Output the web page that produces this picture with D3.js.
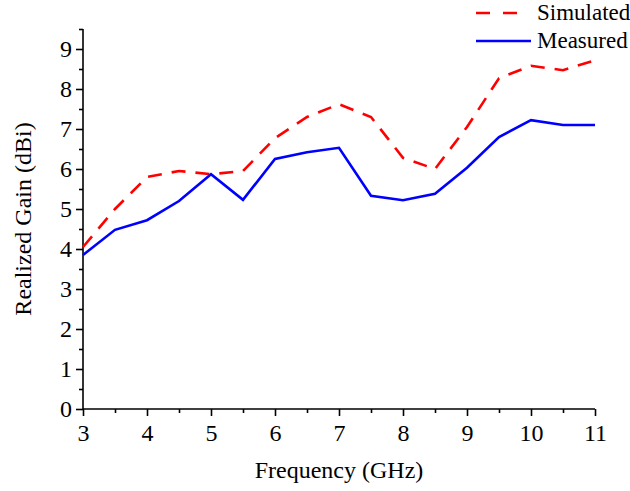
<!DOCTYPE html>
<html>
<head>
<meta charset="utf-8">
<script src="https://cdn.jsdelivr.net/npm/d3@7"></script>
<style>
  body { margin: 0; background: #fff; }
</style>
</head>
<body>
<div class="chart"></div>
<script>
var freq = [3, 3.5, 4, 4.5, 5, 5.5, 6, 6.5, 7, 7.5, 8, 8.5, 9, 9.5, 10, 10.5, 11];
var simulated = [4.05, 5.0, 5.8, 5.95, 5.87, 5.95, 6.77, 7.3, 7.62, 7.3, 6.28, 6.0, 7.05, 8.27, 8.58, 8.47, 8.72];
var measured = [3.85, 4.48, 4.72, 5.2, 5.87, 5.23, 6.25, 6.42, 6.53, 5.33, 5.22, 5.38, 6.03, 6.8, 7.22, 7.1, 7.1];
var xTicks = [3, 4, 5, 6, 7, 8, 9, 10, 11];
var yTicks = [0, 1, 2, 3, 4, 5, 6, 7, 8, 9];
var seriesNames = ["Simulated", "Measured"];

var serif = "Liberation Serif";
var margin = { top: 29, right: 35, bottom: 82, left: 83 };

var svg = d3.select(".chart")
  .append("svg")
  .attr("width", 630)
  .attr("height", 491)
  .append("g")
  .attr("transform", "translate(" + margin.left + "," + margin.top + ")");

var x = d3.scaleLinear().domain([3, 11]).range([0, 512]);
var y = d3.scaleLinear().domain([0, 9.5]).range([380, 0]);

// minor ticks first, then major ones on top
svg.append("g")
  .attr("transform", "translate(0," + y(0) + ")")
  .call(d3.axisBottom(x).tickValues(d3.range(3.5, 11, 1)).tickSize(4).tickFormat(""))
  .call(g => g.select(".domain").remove());
svg.append("g")
  .call(d3.axisLeft(y).tickValues(d3.range(0.5, 9.6, 1)).tickSize(4).tickFormat(""))
  .call(g => g.select(".domain").remove());

var xAxis = svg.append("g")
  .attr("transform", "translate(0," + y(0) + ")")
  .call(d3.axisBottom(x).tickValues(xTicks).tickSize(7).tickSizeOuter(0).tickPadding(8));
var yAxis = svg.append("g")
  .call(d3.axisLeft(y).tickValues(yTicks).tickSize(7).tickSizeOuter(0).tickPadding(4));

svg.selectAll(".tick line, .domain").attr("stroke", "#000").attr("stroke-width", 1.6);
svg.selectAll(".tick text")
  .style("font-family", serif)
  .style("font-size", "24px")
  .attr("fill", "#000");
// x-axis domain should stop at the 11 tick
xAxis.select(".domain").attr("d", "M0,0H" + x(11));
yAxis.select(".domain").attr("d", "M0," + y(0) + "V0");

var line = d3.line()
  .x((d, i) => x(freq[i]))
  .y(d => y(d));

svg.append("path")
  .datum(simulated)
  .attr("d", line)
  .attr("fill", "none")
  .attr("stroke", "#ff0000")
  .attr("stroke-width", 2.6)
  .attr("stroke-dasharray", "14,10");

svg.append("path")
  .datum(measured)
  .attr("d", line)
  .attr("fill", "none")
  .attr("stroke", "#0000ff")
  .attr("stroke-width", 2.6);

// axis titles
svg.append("text")
  .attr("x", x(7))
  .attr("y", 449)
  .attr("text-anchor", "middle")
  .style("font-family", serif)
  .style("font-size", "24px")
  .text("Frequency (GHz)");

svg.append("text")
  .attr("transform", "translate(-52,190) rotate(-90)")
  .attr("text-anchor", "middle")
  .style("font-family", serif)
  .style("font-size", "24px")
  .text("Realized Gain (dBi)");

// legend
var legend = svg.append("g").attr("transform", "translate(393,-16)");
legend.append("line")
  .attr("x1", 0).attr("x2", 41).attr("y1", 0).attr("y2", 0)
  .attr("stroke", "#ff0000").attr("stroke-width", 2.6)
  .attr("stroke-dasharray", "14,13");
legend.append("text")
  .attr("x", 61).attr("y", 7)
  .style("font-family", serif)
  .style("font-size", "23px")
  .text(seriesNames[0]);
legend.append("line")
  .attr("x1", 0).attr("x2", 55).attr("y1", 28).attr("y2", 28)
  .attr("stroke", "#0000ff").attr("stroke-width", 2.6);
legend.append("text")
  .attr("x", 61).attr("y", 35)
  .style("font-family", serif)
  .style("font-size", "23px")
  .text(seriesNames[1]);
</script>
</body>
</html>
